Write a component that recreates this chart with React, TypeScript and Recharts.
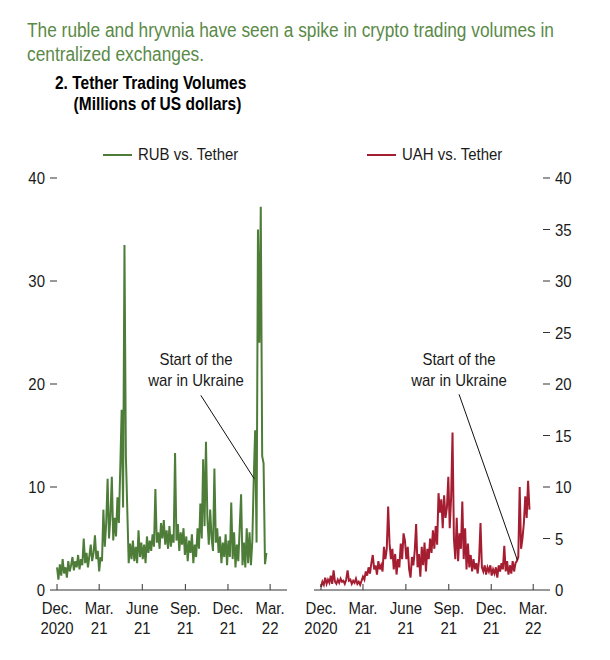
import React from 'react'
import { LineChart, Line, XAxis, YAxis, ReferenceLine } from 'recharts'

// daily volumes sampled every 3 days, starting Dec. 1, 2020
const STEP_DAYS = 3

const rubValues = [
    2.2, 1.0, 2.5, 1.4, 3.0, 1.6, 2.2, 1.2, 2.8, 1.8,
    2.4, 3.2, 1.9, 2.8, 2.2, 3.4, 2.0, 3.0, 2.4, 5.0,
    2.6, 3.6, 2.2, 3.3, 4.4, 2.8, 3.6, 5.3, 3.0, 3.8,
    1.8, 3.2, 2.8, 7.8, 4.2, 6.5, 10.8, 5.0, 7.2, 11.0,
    4.8, 7.0, 5.2, 9.0, 6.5, 11.8, 17.5, 8.0, 33.5, 13.0,
    7.8, 2.6, 4.5, 3.0, 4.8, 2.8, 4.2, 2.6, 5.8, 3.2,
    4.6, 3.0, 4.4, 2.6, 5.2, 3.6, 4.8, 3.8, 5.4, 4.2,
    9.8, 4.6, 5.6, 4.0, 6.5, 5.0, 6.8, 4.4, 5.8, 4.0,
    6.2, 4.2, 5.4, 4.6, 13.3, 4.8, 6.4, 3.8, 5.6, 4.4,
    6.0, 3.4, 5.2, 2.8, 4.8, 3.6, 5.4, 2.6, 4.4, 3.2,
    6.0, 4.0, 8.4, 5.0, 12.7, 6.2, 14.4, 7.0, 4.4, 7.8,
    5.0, 3.8, 11.8, 4.6, 6.0, 3.6, 5.2, 2.6, 4.6, 3.2,
    5.4, 2.4, 4.8, 3.2, 8.5, 3.0, 5.6, 2.2, 4.4, 2.8,
    6.0, 9.3, 2.4, 4.6, 2.2, 6.0, 2.6, 5.6, 2.4, 4.8,
    10.8, 15.5, 4.6, 35.0, 24.0, 37.2, 13.0, 12.3, 2.5, 3.6
]

const uahValues = [
    0.3, 0.8, 0.5, 1.2, 0.6, 1.0, 0.7, 1.4, 0.6, 1.9,
    0.8, 0.6, 1.0, 0.7, 1.1, 0.8, 0.9, 0.6, 1.0, 1.9,
    0.9, 1.0, 0.6, 0.9, 0.7, 1.1, 0.6, 0.8, 0.5, 0.9,
    1.3, 1.0, 1.8, 1.4, 2.2, 1.6, 2.6, 3.4, 2.0, 2.4,
    1.5, 2.8, 2.0, 2.4, 1.8, 4.2, 3.0, 4.0, 8.1, 4.5,
    3.0, 4.0, 2.0, 3.5, 1.5, 3.0, 2.2, 4.5, 3.0, 5.5,
    4.8, 3.0, 4.2, 2.0, 1.2, 3.2, 2.4, 3.8, 6.4, 2.2,
    3.5, 1.3, 4.2, 2.4, 4.6, 1.8, 4.0, 3.0, 5.0, 3.6,
    5.8, 4.0, 6.2, 4.4, 9.4, 7.5, 8.8, 6.0, 9.2, 7.0,
    8.0, 11.0, 6.0, 9.0, 15.3, 5.0, 3.0, 7.0, 2.8, 5.5,
    4.0, 8.6, 3.0, 6.0, 2.0, 4.5, 2.2, 3.4, 1.8, 3.0,
    2.0, 2.6, 1.6, 3.0, 6.5, 2.2, 1.8, 2.4, 1.5, 2.2,
    1.8, 2.4, 1.4, 2.0, 1.6, 2.2, 1.2, 2.4, 1.8, 2.6,
    2.0, 4.3, 1.8, 2.8, 1.5, 2.4, 1.6, 2.8, 1.8, 2.6,
    2.8, 3.2, 10.0, 4.0, 5.0, 6.5, 9.1, 7.0, 10.6, 7.8
]

const xTickDays = [0, 90, 182, 274, 365, 455]
const xTickLabels = [
    ['Dec.', '2020'],
    ['Mar.', '21'],
    ['June', '21'],
    ['Sep.', '21'],
    ['Dec.', '21'],
    ['Mar.', '22']
]
const rubTicks = [0, 10, 20, 30, 40]
const uahTicks = [0, 5, 10, 15, 20, 25, 30, 35, 40]

// annotation: start of the war, arrow from label to series
const warDay = 421
const rubArrow = [{ x: 307, y: 18.9 }, { x: warDay, y: 10.8 }]
const uahArrow = [{ x: 296, y: 19.0 }, { x: warDay, y: 2.9 }]

const GREEN = '#4d7d38'
const RED = '#a51d31'
const INK = '#1a1a1a'
const FONT = "'Liberation Sans', Arial, sans-serif"
const LABEL_SIZE = 17
const NARROW = 0.88 // the source uses a condensed face
const X_DOMAIN: [number, number] = [-15, 491]

const rubData = rubValues.map((v, i) => ({ day: i * STEP_DAYS, v }))
const uahData = uahValues.map((v, i) => ({ day: i * STEP_DAYS, v }))

function NText({ x, y, anchor, children }: { x: number; y: number; anchor: string; children: React.ReactNode }) {
    return (
        <text transform={`translate(${x},${y}) scale(${NARROW},1)`} textAnchor={anchor} fontSize={LABEL_SIZE} fill={INK} fontFamily={FONT}>
            {children}
        </text>
    )
}

function DateTick(props: any) {
    const { x, y, payload } = props
    const idx = xTickDays.indexOf(payload.value)
    const [a, b] = xTickLabels[idx] ?? ['', '']
    return (
        <g>
            <line x1={x} x2={x} y1={y - 6} y2={y} stroke="#333" strokeWidth={1} />
            <NText x={x} y={y + 24} anchor="middle">{a}</NText>
            <NText x={x} y={y + 44} anchor="middle">{b}</NText>
        </g>
    )
}

// left-side ticks: optional label outside, dash pointing inward
function LeftTick(props: any) {
    const { x, y, payload, showLabel } = props
    return (
        <g>
            {payload.value !== 0 && <line x1={x} x2={x + 7} y1={y} y2={y} stroke="#333" strokeWidth={1} />}
            {showLabel && <NText x={x - 5} y={y + 6} anchor="end">{payload.value}</NText>}
        </g>
    )
}

function RightTick(props: any) {
    const { x, y, payload, showLabel } = props
    return (
        <g>
            {payload.value !== 0 && <line x1={x - 7} x2={x} y1={y} y2={y} stroke="#333" strokeWidth={1} />}
            {showLabel && <NText x={x + 5} y={y + 6} anchor="start">{payload.value}</NText>}
        </g>
    )
}

const narrowStyle = (scale: number): React.CSSProperties => ({
    transform: `scaleX(${scale})`,
    transformOrigin: 'left top',
    whiteSpace: 'nowrap'
})

function LegendItem({ left, color, label }: { left: number; color: string; label: string }) {
    return (
        <div style={{ position: 'absolute', left, top: 145, display: 'flex', alignItems: 'center', fontFamily: FONT, fontSize: LABEL_SIZE, color: INK }}>
            <span style={{ display: 'inline-block', width: 29, height: 2.5, background: color, marginRight: 6 }} />
            <span style={{ display: 'inline-block', ...narrowStyle(NARROW) }}>{label}</span>
        </div>
    )
}

function Annotation({ cx }: { cx: number }) {
    return (
        <div style={{ position: 'absolute', left: cx - 70, top: 349, width: 140, textAlign: 'center', fontFamily: FONT, fontSize: LABEL_SIZE, lineHeight: '21px', color: INK, transform: `scaleX(${NARROW})` }}>
            Start of the<br />war in Ukraine
        </div>
    )
}

export default function App() {
    return (
        <div style={{ position: 'absolute', left: 0, top: 0, width: 610, height: 660, background: '#fff', overflow: 'hidden' }}>
            <div style={{ position: 'absolute', left: 27, top: 18, fontFamily: FONT, fontSize: 20, lineHeight: '24px', color: '#5a8a47', ...narrowStyle(0.865) }}>
                The ruble and hryvnia have seen a spike in crypto trading volumes in<br />centralized exchanges.
            </div>
            <div style={{ position: 'absolute', left: 55, top: 73, fontFamily: FONT, fontSize: 17.5, fontWeight: 700, lineHeight: '21px', color: '#000', ...narrowStyle(0.885) }}>
                2. Tether Trading Volumes<br />
                <span style={{ paddingLeft: 21 }}>(Millions of US dollars)</span>
            </div>

            <LegendItem left={103} color={GREEN} label="RUB vs. Tether" />
            <LegendItem left={367} color={RED} label="UAH vs. Tether" />

            <div style={{ position: 'absolute', left: 0, top: 140 }}>
                <LineChart width={300} height={520} data={rubData} margin={{ top: 38, right: 13, left: 5, bottom: 20 }}>
                    <XAxis
                        dataKey="day"
                        type="number"
                        domain={X_DOMAIN}
                        ticks={xTickDays}
                        interval={0}
                        height={50}
                        tickSize={0}
                        tickMargin={0}
                        tickLine={false}
                        axisLine={{ stroke: '#333', strokeWidth: 1 }}
                        tick={<DateTick />}
                    />
                    <YAxis
                        yAxisId="l"
                        domain={[0, 40]}
                        ticks={rubTicks}
                        interval={0}
                        width={45}
                        tickSize={0}
                        tickMargin={0}
                        tickLine={false}
                        axisLine={false}
                        tick={<LeftTick showLabel />}
                    />
                    <YAxis
                        yAxisId="r"
                        orientation="right"
                        domain={[0, 40]}
                        ticks={rubTicks}
                        interval={0}
                        width={0}
                        tickSize={0}
                        tickMargin={0}
                        tickLine={false}
                        axisLine={false}
                        tick={<RightTick showLabel={false} />}
                    />
                    <Line
                        yAxisId="l"
                        type="linear"
                        dataKey="v"
                        stroke={GREEN}
                        strokeWidth={2}
                        dot={false}
                        isAnimationActive={false}
                    />
                    <ReferenceLine yAxisId="l" segment={rubArrow} stroke="#111" strokeWidth={1} />
                </LineChart>
            </div>

            <div style={{ position: 'absolute', left: 300, top: 140 }}>
                <LineChart width={310} height={520} data={uahData} margin={{ top: 38, right: 20, left: 14, bottom: 20 }}>
                    <XAxis
                        dataKey="day"
                        type="number"
                        domain={X_DOMAIN}
                        ticks={xTickDays}
                        interval={0}
                        height={50}
                        tickSize={0}
                        tickMargin={0}
                        tickLine={false}
                        axisLine={{ stroke: '#333', strokeWidth: 1 }}
                        tick={<DateTick />}
                    />
                    <YAxis
                        yAxisId="l"
                        domain={[0, 40]}
                        ticks={uahTicks}
                        interval={0}
                        width={0}
                        tickSize={0}
                        tickMargin={0}
                        tickLine={false}
                        axisLine={false}
                        tick={<LeftTick showLabel={false} />}
                    />
                    <YAxis
                        yAxisId="r"
                        orientation="right"
                        domain={[0, 40]}
                        ticks={uahTicks}
                        interval={0}
                        width={40}
                        tickSize={0}
                        tickMargin={0}
                        tickLine={false}
                        axisLine={false}
                        tick={<RightTick showLabel />}
                    />
                    <Line
                        yAxisId="r"
                        type="linear"
                        dataKey="v"
                        stroke={RED}
                        strokeWidth={2}
                        dot={false}
                        isAnimationActive={false}
                    />
                    <ReferenceLine yAxisId="r" segment={uahArrow} stroke="#111" strokeWidth={1} />
                </LineChart>
            </div>

            <Annotation cx={196} />
            <Annotation cx={459} />
        </div>
    )
}
